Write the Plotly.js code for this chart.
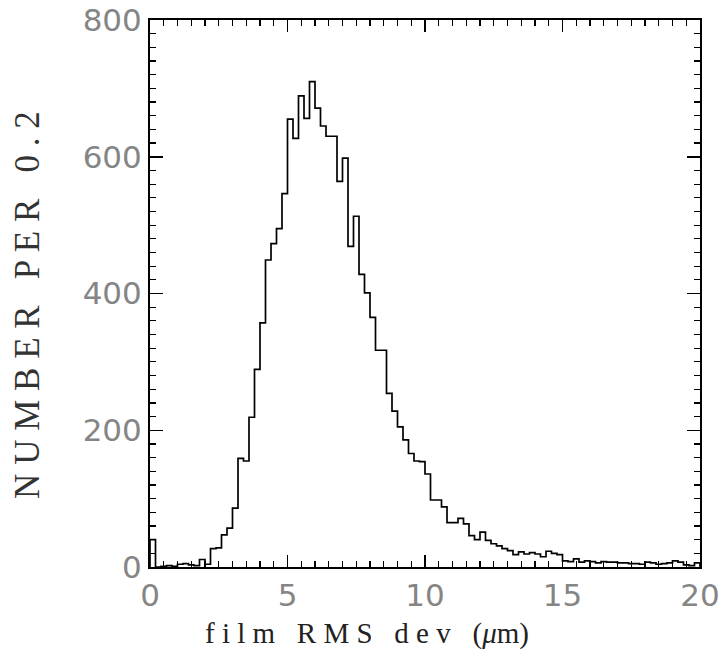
<!DOCTYPE html>
<html>
<head>
<meta charset="utf-8">
<script src="https://cdn.plot.ly/plotly-3.0.1.min.js"></script>
<style>html,body{margin:0;padding:0;background:#fff;}#chart{width:724px;height:654px;}</style>
</head>
<body>
<div id="chart"></div>
<script>
// Histogram of film RMS deviation (µm), bin width 0.2, range 0–20
const binWidth = 0.2;
const xMin = 0;
const counts = [
  40, 0, 1, 2, 1, 4, 5, 3, 2, 11,
  4, 27, 28, 47, 57, 86, 159, 155, 219, 289,
  357, 449, 473, 495, 546, 655, 627, 689, 656, 710,
  671, 645, 630, 630, 564, 598, 469, 513, 428, 401,
  365, 317, 317, 254, 228, 205, 186, 166, 155, 154,
  136, 98, 98, 88, 65, 65, 71, 63, 46, 40,
  51, 39, 34, 31, 27, 24, 18, 22, 19, 21,
  19, 15, 23, 20, 18, 9, 8, 12, 7, 9,
  8, 6, 8, 7, 7, 6, 6, 5, 5, 4,
  7, 6, 4, 5, 6, 9, 7, 3, 2, 6
];
const xTickVals = [0, 5, 10, 15, 20];
const xTickText = ['0', '5', '10', '15', '20'];
const yTickVals = [0, 200, 400, 600, 800];
const yTickText = ['0', '200', '400', '600', '800'];

// build step outline from bin edges
const xs = [xMin];
const ys = [0];
counts.forEach((c, i) => { xs.push(xMin + i * binWidth); ys.push(c); });
xs.push(xMin + counts.length * binWidth); ys.push(counts[counts.length - 1]);
xs.push(xMin + counts.length * binWidth); ys.push(0);

const trace = {
  x: xs, y: ys, type: 'scatter', mode: 'lines',
  line: {shape: 'hv', color: '#000', width: 1.7},
  hoverinfo: 'skip'
};

const tickFont = {family: 'DejaVu Sans', size: 31, color: '#858585'};
const S = '\u00A0\u00A0\u00A0';
const layout = {
  width: 724, height: 654,
  margin: {l: 150, r: 24, t: 20, b: 87},
  paper_bgcolor: '#fff', plot_bgcolor: '#fff',
  showlegend: false,
  xaxis: {
    range: [0, 20], showgrid: false, zeroline: false,
    showline: true, linecolor: '#000', linewidth: 2, mirror: 'ticks',
    ticks: 'inside', ticklen: 12, tickwidth: 1.5, tickcolor: '#000',
    tickvals: xTickVals, ticktext: xTickText, tickfont: tickFont,
    minor: {dtick: 0.5, ticks: 'inside', ticklen: 6, tickwidth: 1.2, tickcolor: '#000', showgrid: false}
  },
  yaxis: {
    range: [0, 800], showgrid: false, zeroline: false,
    showline: true, linecolor: '#000', linewidth: 2, mirror: 'ticks',
    ticks: 'inside', ticklen: 13, tickwidth: 1.5, tickcolor: '#000',
    tickvals: yTickVals, ticktext: yTickText, tickfont: tickFont,
    minor: {dtick: 20, ticks: 'inside', ticklen: 6, tickwidth: 1.2, tickcolor: '#000', showgrid: false}
  },
  annotations: [
    {text: 'f i l m' + S + 'R M S' + S + 'd e v' + S + '(<i>μ</i>m)', xref: 'paper', yref: 'paper',
     x: 0.395, y: -0.121, xanchor: 'center', yanchor: 'middle', showarrow: false,
     font: {family: 'Liberation Serif', size: 29, color: '#222'}},
    {text: 'N U M B E R' + S + 'P E R' + S + '0 . 2', xref: 'paper', yref: 'paper',
     x: -0.222, y: 0.479, xanchor: 'center', yanchor: 'middle', showarrow: false, textangle: -90,
     font: {family: 'Liberation Serif', size: 35, color: '#333'}}
  ]
};

Plotly.newPlot('chart', [trace], layout, {staticPlot: true, displayModeBar: false});
</script>
</body>
</html>
